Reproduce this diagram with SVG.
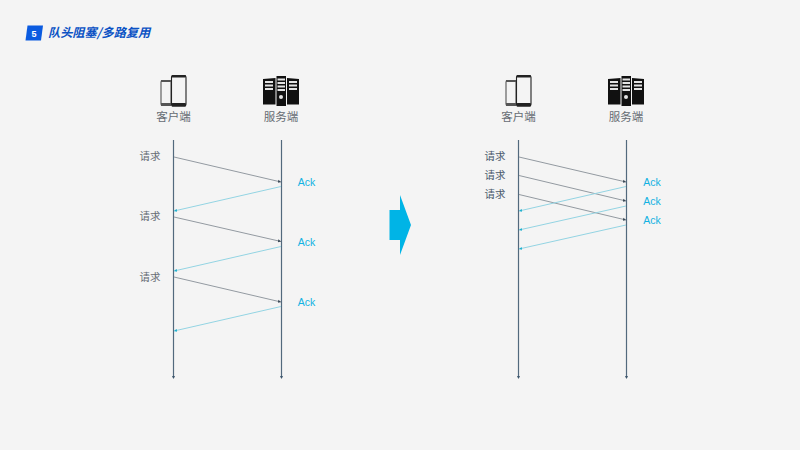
<svg xmlns="http://www.w3.org/2000/svg" width="800" height="450" viewBox="0 0 800 450">
<style>
text{font-family:"Noto Sans CJK SC","Liberation Sans",sans-serif}
.lab{font-size:11.500px;fill:#666c73;text-anchor:middle}
.req{font-size:10.500px;fill:#666c73;text-anchor:middle}
.req2{font-size:10.500px;fill:#4a5a6c;text-anchor:middle}
.ack{font-family:"Liberation Sans",sans-serif;font-size:10.500px;fill:#12b2e2;text-anchor:middle}
.life{stroke:#52697d;stroke-width:1.200;fill:none;marker-end:url(#l)}
.g{stroke:#939aa1;stroke-width:1;fill:none;marker-end:url(#d)}
.c{stroke:#93d4e3;stroke-width:1;fill:none;marker-end:url(#b)}
</style>
<defs>
<marker id="l" markerUnits="userSpaceOnUse" markerWidth="4" markerHeight="4" refX="2" refY="2" orient="auto"><path d="M0 .5L3 2L0 3.500Z" fill="#3d566c"/></marker>
<marker id="d" markerUnits="userSpaceOnUse" markerWidth="4" markerHeight="4" refX="3" refY="2" orient="auto"><path d="M0 .5L3 2L0 3.500Z" fill="#3b4a58"/></marker>
<marker id="b" markerUnits="userSpaceOnUse" markerWidth="4" markerHeight="4" refX="3" refY="2" orient="auto"><path d="M0 .5L3 2L0 3.500Z" fill="#1fb1cf"/></marker>
<g id="phone">
<rect x="161" y="80.500" width="10" height="25" rx="1.500" fill="#f4f4f4" stroke="#555" stroke-width="1.100"/>
<rect x="171.500" y="75.500" width="14.500" height="30.500" rx="2" fill="#f4f4f4" stroke="#222" stroke-width="1.100"/>
<rect x="161" y="80" width="10" height="2" fill="#555"/><rect x="161" y="103" width="10" height="3" fill="#555"/>
<rect x="171.500" y="75" width="14.500" height="2.500" rx="1" fill="#222"/><rect x="171.500" y="103" width="14.500" height="3.500" rx="1" fill="#222"/>
</g>
<g id="server">
<path d="M263 79L275.500 78V104.500H263Z" fill="#111"/><path d="M299 79L287 78V104.500H299Z" fill="#111"/><rect x="276.500" y="76" width="9.500" height="30" fill="#111"/>
<g fill="#e4e4e4"><rect x="265" y="81" width="8" height="2"/><rect x="265" y="84.500" width="8" height="2"/><rect x="265" y="88" width="8" height="2"/>
<rect x="277.500" y="78.500" width="7.500" height="2"/><rect x="277.500" y="82" width="7.500" height="2"/><rect x="277.500" y="85.500" width="7.500" height="2"/><rect x="277.500" y="89" width="7.500" height="2"/>
<rect x="289" y="81" width="8" height="2"/><rect x="289" y="84.500" width="8" height="2"/><rect x="289" y="88" width="8" height="2"/>
<circle cx="281" cy="97" r="2"/></g>
</g>
</defs>
<rect width="800" height="450" fill="#f4f4f4"/>
<g id="title">
<path d="M27.500 25.500H43L41 40.500H25.500Z" fill="#0b5be0"/>
<text x="34" y="36.500" font-size="9" font-weight="700" fill="#fff" text-anchor="middle" style="font-family:'Liberation Sans',sans-serif">5</text>
<text x="48" y="37" font-size="12.200px" font-weight="700" font-style="italic" fill="#0b52c4">队头阻塞/多路复用</text>
</g>
<g id="connectors">
<path class="life" d="M173.500 140V378"/><path class="life" d="M281.500 140V378"/>
<path class="life" d="M518.500 140V378"/><path class="life" d="M626.500 140V378"/>
<path class="g" d="M174 157L281 182"/><path class="c" d="M281 186.500L174 211"/>
<path class="g" d="M174 217L281 241.500"/><path class="c" d="M281 246.500L174 271"/>
<path class="g" d="M174 277L281 302"/><path class="c" d="M281 306.500L174 331"/>
<path class="g" d="M519 157L626 182"/><path class="g" d="M519 175.500L626 201"/><path class="g" d="M519 194.500L626 220"/>
<path class="c" d="M626 186.500L519 211"/><path class="c" d="M626 206L519 230"/><path class="c" d="M626 225L519 249"/>
</g>
<g id="client-left"><use href="#phone"/><text class="lab" x="173.500" y="121">客户端</text></g>
<g id="server-left"><use href="#server"/><text class="lab" x="281" y="121">服务端</text></g>
<g id="client-right"><use href="#phone" x="345"/><text class="lab" x="518.500" y="121">客户端</text></g>
<g id="server-right"><use href="#server" x="345"/><text class="lab" x="626" y="121">服务端</text></g>
<g id="labels-left">
<text class="req" x="150" y="160">请求</text><text class="req" x="150" y="220">请求</text><text class="req" x="150" y="281">请求</text>
<text class="ack" x="306.500" y="185.500">Ack</text><text class="ack" x="306.500" y="245.500">Ack</text><text class="ack" x="306.500" y="306">Ack</text>
</g>
<g id="labels-right">
<text class="req2" x="495" y="160">请求</text><text class="req2" x="495" y="179">请求</text><text class="req2" x="495" y="198">请求</text>
<text class="ack" x="652" y="185.500">Ack</text><text class="ack" x="652" y="205">Ack</text><text class="ack" x="652" y="224">Ack</text>
</g>
<g id="big-arrow"><path d="M389.500 210H400V195L411 225L400 255V240H389.500Z" fill="#00b4e6"/></g>
</svg>
